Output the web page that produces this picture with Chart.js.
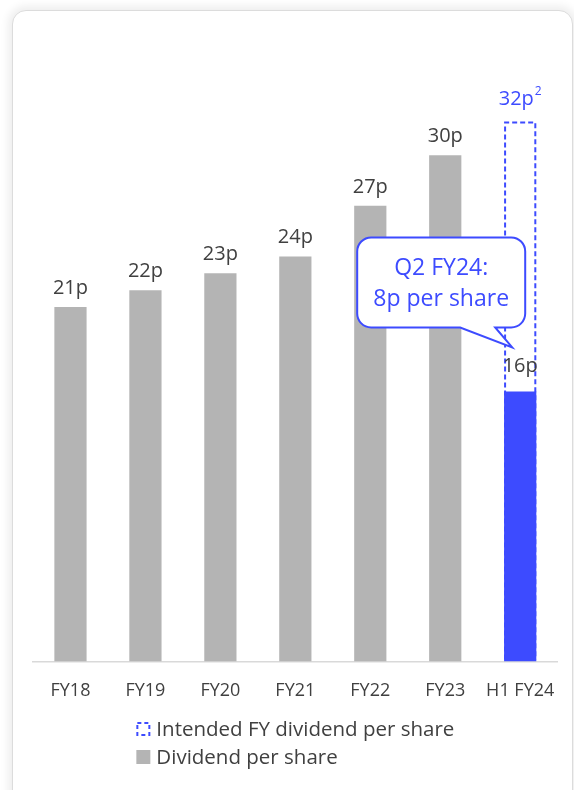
<!DOCTYPE html>
<html>
<head>
<meta charset="utf-8">
<script src="https://cdn.jsdelivr.net/npm/chart.js@4/dist/chart.umd.min.js"></script>
<style>
  html, body { margin: 0; padding: 0; background: #fff; overflow: hidden; }
  .card {
    position: absolute; left: 12px; top: 10px; width: 559px; height: 900px;
    border: 1px solid #dcdcdc; border-radius: 14px;
    box-shadow: 0 0 8px 4px rgba(0, 0, 0, 0.07);
    background: #fff;
  }
  #chart { position: absolute; left: 0; top: 0; }
</style>
</head>
<body>
<div class="card"></div>
<canvas id="chart" width="574" height="790"></canvas>
<script>
const categories = ['FY18', 'FY19', 'FY20', 'FY21', 'FY22', 'FY23', 'H1 FY24'];
const dividendPerShare = [21, 22, 23, 24, 27, 30, 16];
const intendedDividend = [null, null, null, null, null, null, 32];
const calloutLines = ['Q2 FY24:', '8p per share'];

const GREY = '#b4b4b4';
const BLUE = '#3d4bff';
const TEXT = '#404040';
const FONT = '"Open Sans", sans-serif';

const barColors = categories.map((c, i) => i === categories.length - 1 ? BLUE : GREY);

// dashed outline for the "intended" bar, drawn underneath the solid bars
const dashedBars = {
  id: 'dashedBars',
  beforeDatasetsDraw(chart) {
    const ctx = chart.ctx;
    chart.data.datasets.forEach((ds, di) => {
      if (!ds.dashed) return;
      ctx.save();
      ctx.strokeStyle = BLUE;
      ctx.lineWidth = 2;
      ctx.setLineDash([5, 3]);
      chart.getDatasetMeta(di).data.forEach((el, i) => {
        if (ds.data[i] == null) return;
        const { x, y, base, width } = el.getProps(['x', 'y', 'base', 'width'], true);
        const l = x - width / 2 + 1, r = x + width / 2 - 1;
        ctx.beginPath();
        ctx.moveTo(l, base - 2);
        ctx.lineTo(l, y + 1);
        ctx.lineTo(r, y + 1);
        ctx.lineTo(r, base - 2);
        ctx.stroke();
      });
      ctx.restore();
    });
  }
};

// value labels, the callout bubble and the legend
const annotations = {
  id: 'annotations',
  afterDatasetsDraw(chart) {
    const ctx = chart.ctx;
    const last = categories.length - 1;
    ctx.save();
    ctx.textAlign = 'center';
    ctx.textBaseline = 'alphabetic';

    // Dividend per share labels
    const solid = chart.getDatasetMeta(1);
    ctx.font = '20px ' + FONT;
    ctx.fillStyle = TEXT;
    solid.data.forEach((el, i) => {
      const gap = i === last ? 19 : 13;
      ctx.fillText(dividendPerShare[i] + 'p', el.x, el.y - gap);
    });

    // intended full-year label with footnote marker
    const dashed = chart.getDatasetMeta(0);
    dashed.data.forEach((el, i) => {
      if (intendedDividend[i] == null) return;
      const main = intendedDividend[i] + 'p';
      ctx.font = '20px ' + FONT;
      const w1 = ctx.measureText(main).width;
      ctx.font = '12px ' + FONT;
      const w2 = ctx.measureText('2').width;
      const left = el.x - (w1 + w2 + 1) / 2;
      ctx.textAlign = 'left';
      ctx.fillStyle = BLUE;
      ctx.font = '20px ' + FONT;
      ctx.fillText(main, left, el.y - 16);
      ctx.font = '12px ' + FONT;
      ctx.fillText('2', left + w1 + 1, el.y - 26);
      ctx.textAlign = 'center';
    });

    // callout bubble pointing at the H1 FY24 bar
    const target = solid.data[last];
    const tipX = target.x - 8;
    const tipY = target.y - 44;
    const right = target.x + 5, left = right - 168;
    const bottom = tipY - 20, top = bottom - 90;
    const r = 14;
    ctx.beginPath();
    ctx.moveTo(left + r, top);
    ctx.lineTo(right - r, top);
    ctx.arcTo(right, top, right, top + r, r);
    ctx.lineTo(right, bottom - r);
    ctx.arcTo(right, bottom, right - r, bottom, r);
    ctx.lineTo(tipX - 17, bottom);
    ctx.lineTo(tipX, tipY);
    ctx.lineTo(tipX - 52, bottom);
    ctx.lineTo(left + r, bottom);
    ctx.arcTo(left, bottom, left, bottom - r, r);
    ctx.lineTo(left, top + r);
    ctx.arcTo(left, top, left + r, top, r);
    ctx.closePath();
    ctx.fillStyle = '#fff';
    ctx.fill();
    ctx.lineWidth = 2;
    ctx.strokeStyle = BLUE;
    ctx.stroke();
    ctx.fillStyle = BLUE;
    ctx.font = '23px ' + FONT;
    const cx = (left + right) / 2;
    ctx.fillText(calloutLines[0], cx, top + 38);
    ctx.fillText(calloutLines[1], cx, top + 69);
    ctx.restore();
  },
  afterDraw(chart) {
    const ctx = chart.ctx;
    const area = chart.chartArea;
    const items = [chart.data.datasets[0], chart.data.datasets[1]];
    ctx.save();
    ctx.font = '20.5px ' + FONT;
    const box = 14, gap = 6;
    const widest = Math.max(...items.map(d => ctx.measureText(d.label).width));
    const x0 = (area.left + area.right) / 2 - (box + gap + widest) / 2;
    items.forEach((d, i) => {
      const base = 736 + i * 28;
      if (d.dashed) {
        ctx.strokeStyle = BLUE;
        ctx.lineWidth = 2;
        ctx.setLineDash([4, 3]);
        ctx.strokeRect(x0 + 1, base - box + 1, box - 2, box - 2);
        ctx.setLineDash([]);
      } else {
        ctx.fillStyle = GREY;
        ctx.fillRect(x0, base - box, box, box);
      }
      ctx.fillStyle = TEXT;
      ctx.textAlign = 'left';
      ctx.textBaseline = 'alphabetic';
      ctx.fillText(d.label, x0 + box + gap, base);
    });
    ctx.restore();
  }
};

new Chart(document.getElementById('chart'), {
  type: 'bar',
  data: {
    labels: categories,
    datasets: [
      {
        label: 'Intended FY dividend per share',
        data: intendedDividend,
        backgroundColor: 'rgba(0,0,0,0)',
        borderWidth: 0,
        grouped: false,
        order: 2,
        dashed: true
      },
      {
        label: 'Dividend per share',
        data: dividendPerShare,
        backgroundColor: barColors,
        borderWidth: 0,
        grouped: false,
        order: 1
      }
    ]
  },
  options: {
    responsive: false,
    animation: false,
    devicePixelRatio: 1,
    layout: { padding: { top: 54, left: 33, right: 10, bottom: 69 } },
    datasets: { bar: { categoryPercentage: 1, barPercentage: 0.43 } },
    plugins: { legend: { display: false }, tooltip: { enabled: false } },
    scales: {
      x: {
        grid: { display: false, drawTicks: false },
        border: { display: true, color: '#d9d9d9', width: 1.5 },
        ticks: { color: TEXT, font: { family: FONT, size: 18 }, padding: 19 }
      },
      y: { display: false, min: 0, max: 36 }
    }
  },
  plugins: [dashedBars, annotations]
});
</script>
</body>
</html>
